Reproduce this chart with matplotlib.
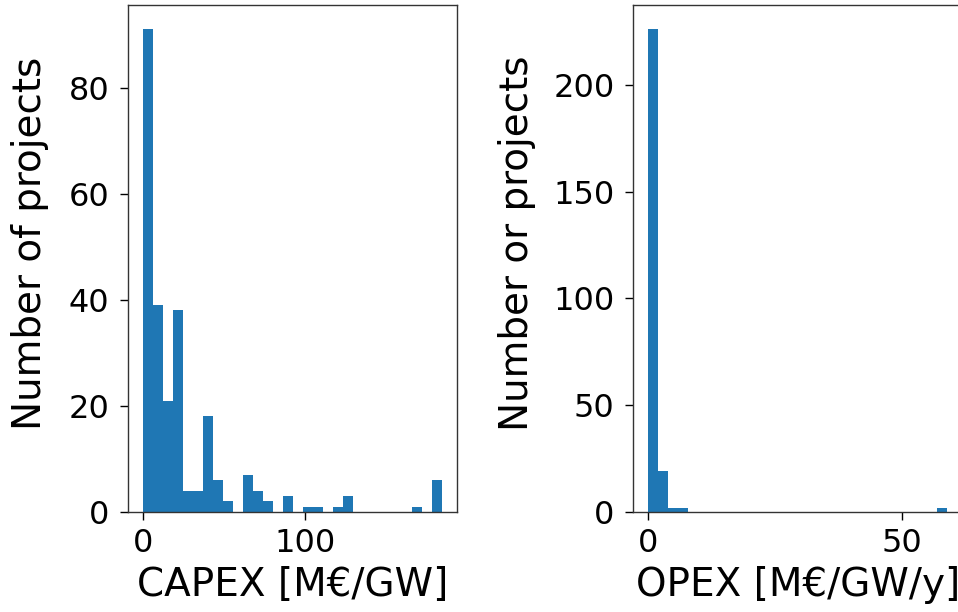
import numpy as np
import matplotlib
matplotlib.use("Agg")
import matplotlib.pyplot as plt

# Histogram data (30 equal bins each)
capex_range = (0.0, 185.1)
capex_counts = [91, 39, 21, 38, 4, 4, 18, 6, 2, 0,
                7, 4, 2, 0, 3, 0, 1, 1, 0, 1,
                3, 0, 0, 0, 0, 0, 0, 1, 0, 6]
opex_range = (0.0, 59.0)
opex_counts = [226, 19, 2, 2, 0, 0, 0, 0, 0, 0,
               0, 0, 0, 0, 0, 0, 0, 0, 0, 0,
               0, 0, 0, 0, 0, 0, 0, 0, 0, 2]

capex_xticks = [0, 100]
capex_yticks = [0, 20, 40, 60, 80]
opex_xticks = [0, 50]
opex_yticks = [0, 50, 100, 150, 200]

xlabels = ["CAPEX [M€/GW]", "OPEX [M€/GW/y]"]
ylabels = ["Number of projects", "Number or projects"]

W, H = 958, 612
fig = plt.figure(figsize=(W / 100, H / 100), dpi=100)

bottom = 1 - 512 / H
height = (512 - 5) / H
ax1 = fig.add_axes([128.3 / W, bottom, 329 / W, height])
ax2 = fig.add_axes([633.3 / W, bottom, 329 / W, height])

tick_fs = 23
label_fs = 28

for ax, rng, counts, xt, yt, xl, yl, ylx in [
    (ax1, capex_range, capex_counts, capex_xticks, capex_yticks, xlabels[0], ylabels[0], -0.299),
    (ax2, opex_range, opex_counts, opex_xticks, opex_yticks, xlabels[1], ylabels[1], -0.353),
]:
    edges = np.linspace(rng[0], rng[1], len(counts) + 1)
    ax.hist(edges[:-1], bins=edges, weights=counts, color="#1f77b4")
    ax.set_xticks(xt)
    ax.set_yticks(yt)
    ax.tick_params(labelsize=tick_fs, length=5.5, width=1.0)
    ax.tick_params(axis="y", pad=8)
    ax.tick_params(axis="x", pad=6)
    for s in ax.spines.values():
        s.set_linewidth(1.0)
        s.set_color("#333333")
    ax.set_xlabel(xl, fontsize=label_fs)
    ax.set_ylabel(yl, fontsize=label_fs)
    ax.yaxis.label.set_va("center")
    ax.xaxis.label.set_va("center")
    ax.yaxis.set_label_coords(ylx, 0.53)
    ax.xaxis.set_label_coords(0.5, -0.144)

fig.savefig("out.png", dpi=100)
